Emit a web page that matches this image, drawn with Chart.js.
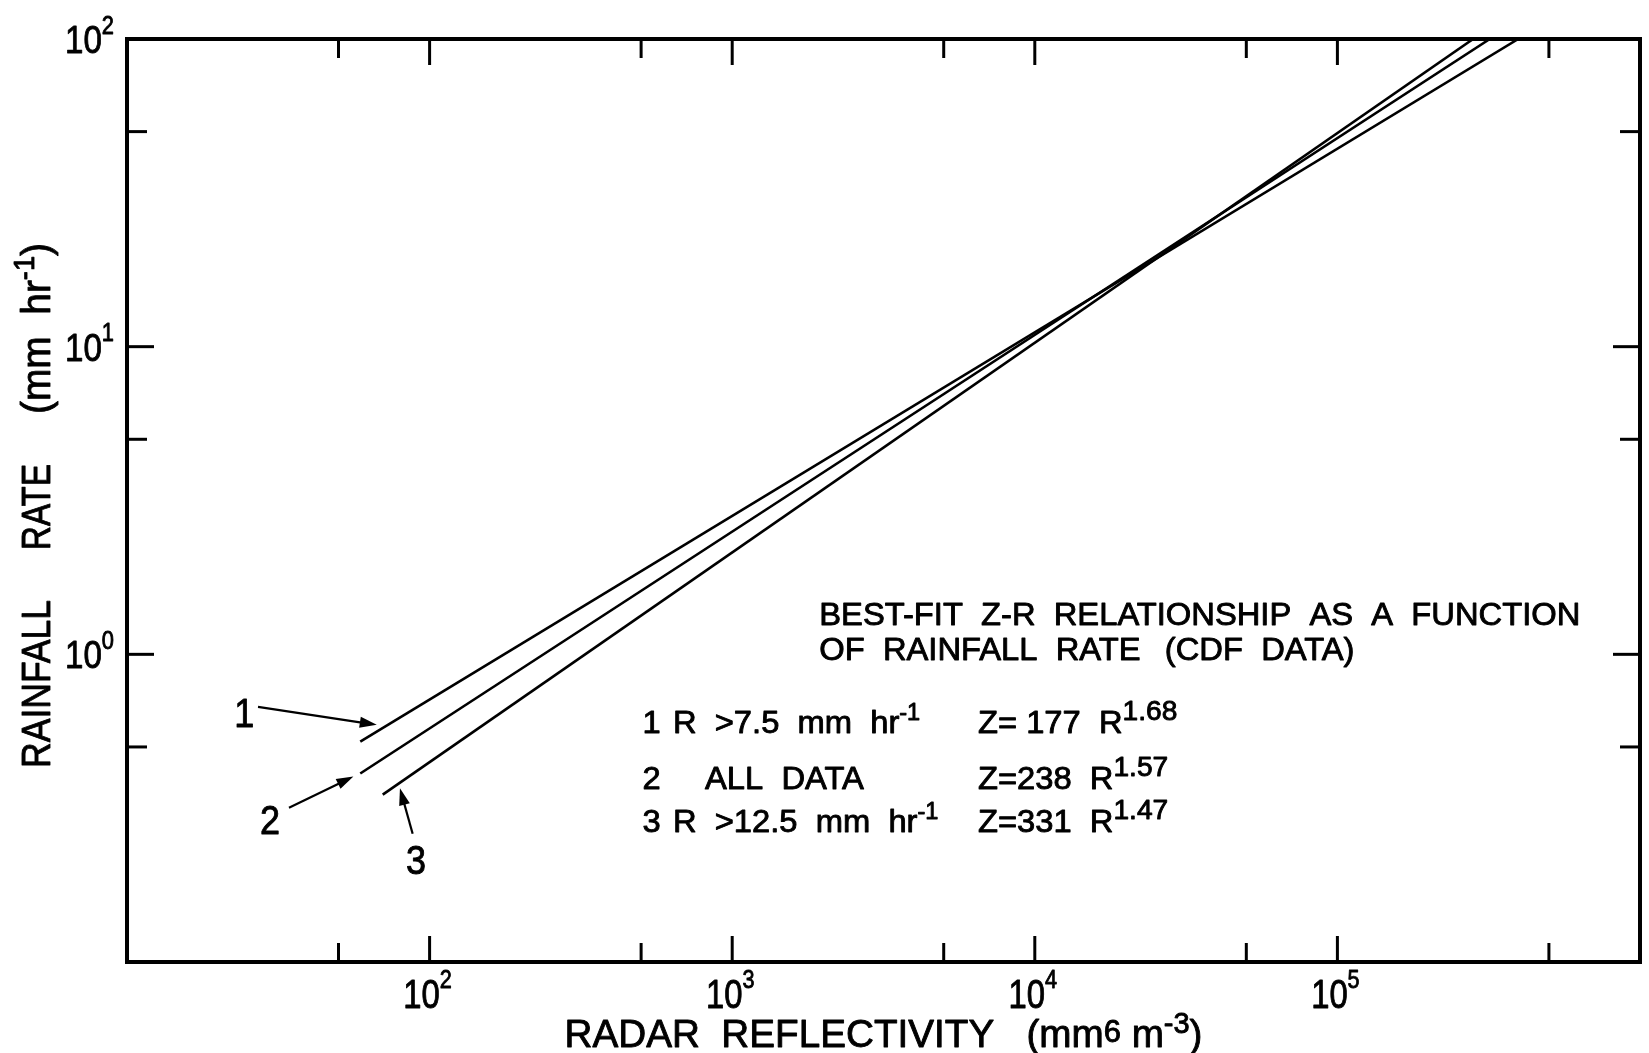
<!DOCTYPE html>
<html>
<head>
<meta charset="utf-8">
<script src="https://cdn.jsdelivr.net/npm/chart.js@4.4.1/dist/chart.umd.min.js"></script>
<style>
    html, body { margin: 0; padding: 0; background: #fff; }
    #wrap { width: 1649px; height: 1053px; }
</style>
</head>
<body>
<div id="wrap"><canvas id="graficoZR" width="1649" height="1053"></canvas></div>
<script>
// endpoints of each best-fit line (Z in mm6 m-3, R in mm/hr)
const line1Z = [59, 396000];
const line1R = [0.52, 100];
const line2Z = [59, 319000];
const line2R = [0.41, 100];
const line3Z = [70, 281000];
const line3R = [0.35, 100];

// axes
const xMin = 10, xMax = 1e6;
const yMin = 0.1, yMax = 100;
const xMajorTicks = [1e2, 1e3, 1e4, 1e5];
const xMinorTicks = [50, 500, 5000, 50000, 500000];
const yMajorTicks = [1, 10];
const yMinorTicks = [0.5, 5, 50];
const xTickLabels = ['2', '3', '4', '5'];      // exponents of 10 at xMajorTicks
const yLabelValues = [100, 10, 1];
const yTickLabels = ['2', '1', '0'];

const FONT = '"Liberation Sans", Arial, Helvetica, sans-serif';

// parts: [text, sizeFactor, raiseFactor]
function richText(ctx, parts, x, y, size, opts) {
    opts = opts || {};
    let w = 0;
    parts.forEach(p => {
        ctx.font = (size * (p[1] || 1)) + 'px ' + FONT;
        w += ctx.measureText(p[0]).width;
    });
    const k = opts.width ? opts.width / w : (opts.k || 0.85);
    ctx.save();
    ctx.translate(x, y);
    if (opts.rotate) ctx.rotate(opts.rotate);
    if (opts.offset) ctx.translate(opts.offset, 0);
    ctx.scale(k, 1);
    ctx.textBaseline = opts.baseline || 'alphabetic';
    ctx.textAlign = 'left';
    ctx.lineWidth = opts.stroke === undefined ? 0.9 : opts.stroke;
    ctx.lineJoin = 'round';
    let cx = opts.align === 'center' ? -w / 2 : (opts.align === 'right' ? -w : 0);
    parts.forEach(p => {
        ctx.font = (size * (p[1] || 1)) + 'px ' + FONT;
        ctx.fillText(p[0], cx, -size * (p[2] || 0));
        if (ctx.lineWidth > 0) ctx.strokeText(p[0], cx, -size * (p[2] || 0));
        cx += ctx.measureText(p[0]).width;
    });
    ctx.restore();
    return k;
}

function arrow(ctx, x1, y1, x2, y2) {
    const a = Math.atan2(y2 - y1, x2 - x1);
    const L = 17, W = 5.5;
    ctx.beginPath();
    ctx.moveTo(x1, y1);
    ctx.lineTo(x2 - L * 0.8 * Math.cos(a), y2 - L * 0.8 * Math.sin(a));
    ctx.stroke();
    ctx.beginPath();
    ctx.moveTo(x2, y2);
    ctx.lineTo(x2 - L * Math.cos(a) + W * Math.sin(a), y2 - L * Math.sin(a) - W * Math.cos(a));
    ctx.lineTo(x2 - L * Math.cos(a) - W * Math.sin(a), y2 - L * Math.sin(a) + W * Math.cos(a));
    ctx.closePath();
    ctx.fill();
}

// arrows and numbers pointing at the lines, in data coordinates [Z, R]
const arrows = [
    [[27.1, 0.675], [66.9, 0.590]],
    [[34.3, 0.317], [56.0, 0.401]],
    [[87.9, 0.261], [79.8, 0.367]]
];
const lineNumbers = [['1', 24.4, 0.646], ['2', 29.7, 0.290], ['3', 90.2, 0.215]];

const framePlugin = {
    id: 'framePlugin',
    afterDatasetsDraw(chart) {
        const { ctx, chartArea: a, scales: { x, y } } = chart;
        ctx.save();
        ctx.strokeStyle = '#000';
        ctx.fillStyle = '#000';
        ctx.lineCap = 'butt';

        // frame
        ctx.lineWidth = 4;
        ctx.strokeRect(a.left, a.top, a.right - a.left, a.bottom - a.top);

        // inward ticks on all four sides
        ctx.lineWidth = 3;
        const seg = (x1, y1, x2, y2) => { ctx.beginPath(); ctx.moveTo(x1, y1); ctx.lineTo(x2, y2); ctx.stroke(); };
        const xTicks = (vals, len) => vals.forEach(v => {
            const px = x.getPixelForValue(v);
            seg(px, a.bottom, px, a.bottom - len);
            seg(px, a.top, px, a.top + len);
        });
        const yTicks = (vals, len) => vals.forEach(v => {
            const py = y.getPixelForValue(v);
            seg(a.left, py, a.left + len, py);
            seg(a.right, py, a.right - len, py);
        });
        xTicks(xMajorTicks, 26);
        xTicks(xMinorTicks, 19);
        yTicks(yMajorTicks, 27);
        yTicks(yMinorTicks, 20);

        // tick labels
        xMajorTicks.forEach((v, i) => {
            richText(ctx, [['10'], [xTickLabels[i], 0.66, 0.5]], x.getPixelForValue(v) - 2, a.bottom + 46, 40, { align: 'center', k: 0.82 });
        });
        yLabelValues.forEach((v, i) => {
            const py = y.getPixelForValue(v);
            richText(ctx, [['10'], [yTickLabels[i], 0.66, 0.5]], a.left - 62, py + 14, 39, { k: 0.85 });
        });

        // axis titles
        richText(ctx, [['RADAR  REFLECTIVITY   (mm'], ['6', 0.8, 0.12], [' m'], ['-3', 0.75, 0.35], [')']],
            (a.left + a.right) / 2, 1047, 39, { align: 'center', width: 638 });
        // y title, word by word from the bottom up
        const rot = -Math.PI / 2;
        richText(ctx, [['RAINFALL']], 50, 768, 41, { rotate: rot, width: 168 });
        richText(ctx, [['RATE']], 50, 768, 41, { rotate: rot, offset: 218, width: 86 });
        richText(ctx, [['(mm  hr'], ['-1', 0.7, 0.4], [')']], 50, 768, 41, { rotate: rot, offset: 354, width: 171 });

        // arrows and numbers
        ctx.lineWidth = 2.2;
        arrows.forEach(ar => {
            arrow(ctx, x.getPixelForValue(ar[0][0]), y.getPixelForValue(ar[0][1]),
                x.getPixelForValue(ar[1][0]), y.getPixelForValue(ar[1][1]));
        });
        lineNumbers.forEach(n => {
            richText(ctx, [[n[0]]], x.getPixelForValue(n[1]), y.getPixelForValue(n[2]) + 14, 40, { align: 'center', k: 0.9 });
        });

        // caption block
        const px = v => x.getPixelForValue(v);
        const py = v => y.getPixelForValue(v);
        const k = richText(ctx, [['BEST-FIT  Z-R  RELATIONSHIP  AS  A  FUNCTION']], px(1940), py(1.25), 32, { width: 761 });
        richText(ctx, [['OF  RAINFALL  RATE']], px(1940), py(0.962), 32, { k: k });
        richText(ctx, [['(CDF  DATA)']], px(26900), py(0.962), 32, { k: k });

        const rowR = [0.555, 0.364, 0.264];
        richText(ctx, [['1']], px(505), py(rowR[0]), 32, { k: k });
        richText(ctx, [['R  >7.5  mm  hr'], ['-1', 0.72, 0.42]], px(637), py(rowR[0]), 32, { k: k });
        richText(ctx, [['Z= 177  R'], ['1.68', 0.86, 0.42]], px(6490), py(rowR[0]), 32, { k: k });
        richText(ctx, [['2']], px(505), py(rowR[1]), 32, { k: k });
        richText(ctx, [['ALL  DATA']], px(813), py(rowR[1]), 32, { k: k });
        richText(ctx, [['Z=238  R'], ['1.57', 0.86, 0.42]], px(6490), py(rowR[1]), 32, { k: k });
        richText(ctx, [['3']], px(505), py(rowR[2]), 32, { k: k });
        richText(ctx, [['R  >12.5  mm  hr'], ['-1', 0.72, 0.42]], px(637), py(rowR[2]), 32, { k: k });
        richText(ctx, [['Z=331  R'], ['1.47', 0.86, 0.42]], px(6490), py(rowR[2]), 32, { k: k });

        ctx.restore();
    }
};

const toPoints = (zs, rs) => zs.map((z, i) => ({ x: z, y: rs[i] }));

window.drawZRChart = () => {
    const ctx = document.getElementById('graficoZR').getContext('2d');

    if (window.zrChart) {
        window.zrChart.destroy();
    }

    const lineStyle = {
        showLine: true,
        borderColor: '#000',
        borderWidth: 2.6,
        pointRadius: 0,
        fill: false
    };

    window.zrChart = new Chart(ctx, {
        type: 'scatter',
        data: {
            datasets: [
                Object.assign({ label: '1  R >7.5 mm hr-1  Z=177 R1.68', data: toPoints(line1Z, line1R) }, lineStyle),
                Object.assign({ label: '2  ALL DATA  Z=238 R1.57', data: toPoints(line2Z, line2R) }, lineStyle),
                Object.assign({ label: '3  R >12.5 mm hr-1  Z=331 R1.47', data: toPoints(line3Z, line3R) }, lineStyle)
            ]
        },
        options: {
            responsive: false,
            animation: false,
            events: [],
            layout: {
                padding: { left: 127, top: 39, right: 9, bottom: 91 }
            },
            plugins: {
                legend: { display: false },
                tooltip: { enabled: false }
            },
            scales: {
                x: {
                    type: 'logarithmic',
                    min: xMin,
                    max: xMax,
                    ticks: { display: false },
                    grid: { display: false, drawTicks: false },
                    border: { display: false },
                    afterFit: s => { s.height = 0; }
                },
                y: {
                    type: 'logarithmic',
                    min: yMin,
                    max: yMax,
                    ticks: { display: false },
                    grid: { display: false, drawTicks: false },
                    border: { display: false },
                    afterFit: s => { s.width = 0; }
                }
            }
        },
        plugins: [framePlugin]
    });
};

window.drawZRChart();
</script>
</body>
</html>
